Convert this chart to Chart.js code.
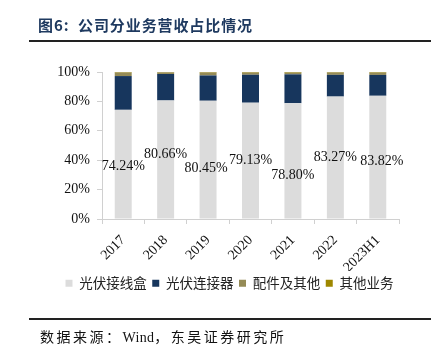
<!DOCTYPE html>
<html>
<head>
<meta charset="utf-8">
<script src="https://cdn.jsdelivr.net/npm/chart.js@4/dist/chart.umd.min.js"></script>
<style>
  html,body{margin:0;padding:0;background:#fff;}
  #wrap{position:relative;width:440px;height:355px;overflow:hidden;}
  #title{position:absolute;left:38px;top:14px;font-family:"Noto Sans CJK SC";font-weight:bold;font-size:15px;color:#1F3A60;letter-spacing:0.9px;white-space:nowrap;}
  #line1{position:absolute;left:29px;top:40px;width:402px;height:2px;background:#222;}
  #line2{position:absolute;left:29px;top:318px;width:402px;height:1.5px;background:#222;}
  #src{position:absolute;left:40px;top:326px;font-family:"Liberation Serif","Noto Sans CJK SC";font-size:14px;color:#111;letter-spacing:2.5px;white-space:nowrap;}
  #src span{letter-spacing:0.3px;}
  #cv{position:absolute;left:0;top:0;}
</style>
</head>
<body>
<div id="wrap">
  <canvas id="cv" width="440" height="355"></canvas>
  <div id="title">图6:&nbsp;&nbsp;公司分业务营收占比情况</div>
  <div id="line1"></div>
  <div id="line2"></div>
  <div id="src">数据来源：<span>Wind</span>，东吴证券研究所</div>
</div>
<script>
const categories = ['2017','2018','2019','2020','2021','2022','2023H1'];
const seriesNames = ['光伏接线盒','光伏连接器','配件及其他','其他业务'];
const junctionBox = [74.24, 80.66, 80.45, 79.13, 78.80, 83.27, 83.82];
const connector   = [23.00, 18.00, 17.20, 19.00, 19.60, 14.80, 14.20];
const accessories = [2.40, 1.10, 2.00, 1.50, 1.20, 1.60, 1.60];
const otherBiz    = [0.36, 0.24, 0.35, 0.37, 0.40, 0.33, 0.38];
const yTicks = [0, 20, 40, 60, 80, 100];

const colors = ['#DCDCDC', '#17365D', '#958B56', '#9E8700'];

// label display offsets (pixels) relative to bar segment centre
const labelDx = [0, 0, -2, 0, 0, 0, 4];
const labelDy = [2, -5.5, 9, 0, 14, 0, 4];

const labelPlugin = {
  id: 'segLabels',
  afterDatasetsDraw(chart) {
    const ctx = chart.ctx;
    const meta = chart.getDatasetMeta(0);
    ctx.save();
    ctx.font = '14px "Liberation Serif"';
    ctx.fillStyle = '#111';
    ctx.textAlign = 'center';
    ctx.textBaseline = 'middle';
    meta.data.forEach((bar, i) => {
      const p = bar.getProps(['x','y','base'], true);
      const cy = (p.y + p.base) / 2;
      ctx.fillText(junctionBox[i].toFixed(2) + '%', p.x + labelDx[i], cy + labelDy[i]);
    });
    ctx.restore();
  }
};

const dataSets = [junctionBox, connector, accessories, otherBiz].map((d, i) => ({
  label: seriesNames[i],
  data: d,
  backgroundColor: colors[i],
  borderWidth: 0,
  categoryPercentage: 1.0,
  barPercentage: 0.4
}));

new Chart(document.getElementById('cv'), {
  type: 'bar',
  data: { labels: categories, datasets: dataSets },
  plugins: [labelPlugin],
  options: {
    responsive: false,
    animation: false,
    layout: { padding: { left: 0, right: 41, top: 72, bottom: 55 } },
    plugins: {
      tooltip: { enabled: false },
      title: { display: false },
      legend: {
        position: 'bottom',
        align: 'end',
        labels: {
          boxWidth: 7, boxHeight: 7,
          padding: 5.5,
          color: '#222',
          font: { family: '"Noto Sans CJK SC"', size: 13.5 }
        }
      }
    },
    scales: {
      x: {
        stacked: true,
        grid: { display: true, offset: true, drawOnChartArea: false, drawTicks: true, tickLength: 5, color: '#D0D0D0' },
        border: { display: true, color: '#D0D0D0' },
        ticks: {
          minRotation: 45, maxRotation: 45, padding: 8,
          color: '#111',
          font: { family: '"Liberation Serif"', size: 14 }
        },
        afterFit(scale) { scale.height = 52; }
      },
      y: {
        stacked: true,
        min: 0, max: 100,
        afterBuildTicks(scale) { scale.ticks = yTicks.map(v => ({ value: v })); },
        grid: { display: true, drawOnChartArea: false, drawTicks: true, tickLength: 5, color: '#D0D0D0' },
        border: { display: true, color: '#D0D0D0' },
        ticks: {
          padding: 7,
          color: '#111',
          font: { family: '"Liberation Serif"', size: 14 },
          callback: v => v + '%'
        },
        afterFit(scale) { scale.width = 102; }
      }
    }
  }
});
</script>
</body>
</html>
